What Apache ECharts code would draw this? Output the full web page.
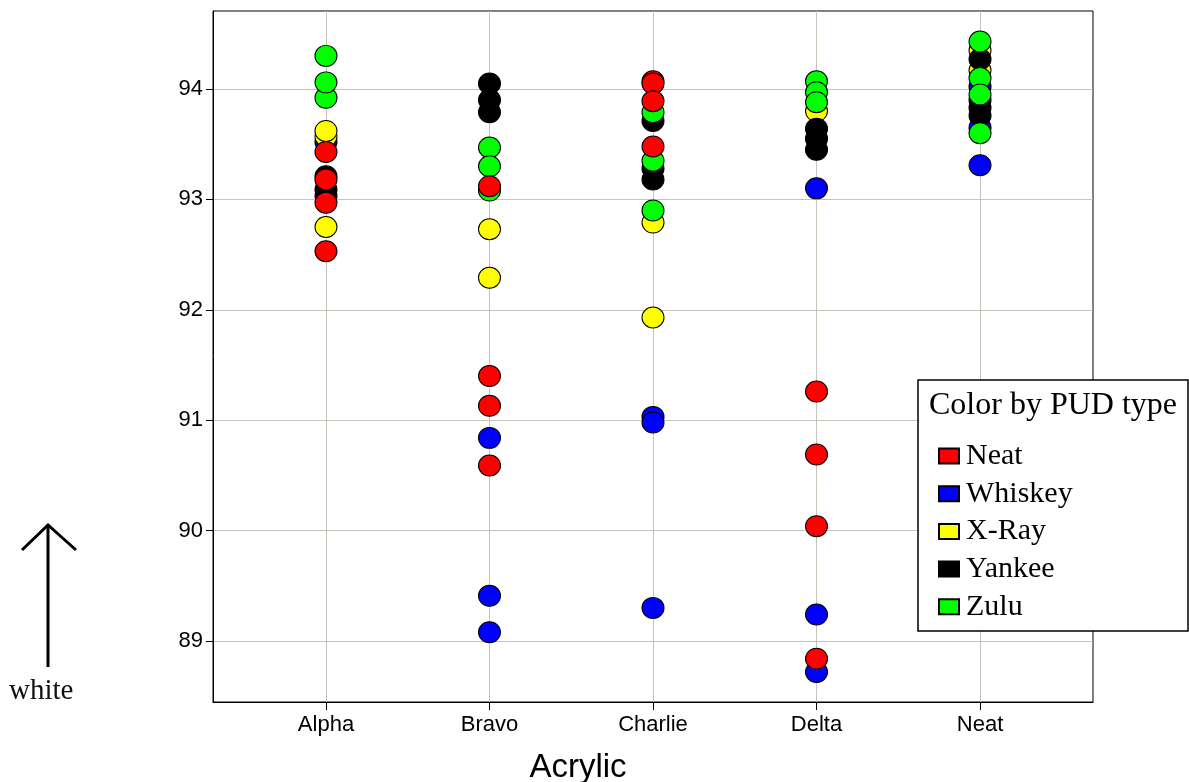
<!DOCTYPE html>
<html>
<head>
<meta charset="utf-8">
<title>Acrylic by PUD type</title>
<script src="https://cdn.jsdelivr.net/npm/echarts@6/dist/echarts.min.js"></script>
<style>
  html, body { margin: 0; padding: 0; background: #ffffff; }
  #chart { width: 1189px; height: 782px; }
</style>
</head>
<body>
<div id="chart"></div>
<script>
// Acrylic categories along the x axis
const categories = ['Alpha', 'Bravo', 'Charlie', 'Delta', 'Neat'];
const yTicks = [89, 90, 91, 92, 93, 94];

// Measured values, one list per acrylic category (Alpha, Bravo, Charlie, Delta, Neat)
const neatVals = [
  [92.53, 92.97, 93.18, 93.43],
  [93.12, 91.40, 91.13, 90.59],
  [94.07, 94.05, 93.89, 93.48],
  [91.26, 90.69, 90.04, 88.84],
  []
];
const whiskeyVals = [
  [93.52, 93.03],
  [90.84, 89.41, 89.08],
  [91.03, 90.98, 89.30],
  [93.10, 89.24, 88.72],
  [94.02, 93.90, 93.65, 93.31]
];
const xrayVals = [
  [92.75, 93.57, 93.62],
  [92.73, 92.29],
  [92.79, 91.93],
  [93.80],
  [94.35, 94.17]
];
const yankeeVals = [
  [93.09, 93.21],
  [94.05, 93.90, 93.79],
  [93.71, 93.28, 93.18],
  [93.64, 93.55, 93.45],
  [94.27, 93.83, 93.76]
];
const zuluVals = [
  [93.92, 94.06, 94.30],
  [93.47, 93.30, 93.08],
  [93.79, 93.35, 92.90],
  [94.07, 93.97, 93.88],
  [94.43, 94.10, 93.95, 93.60]
];

const pudTypes = ['Neat', 'Whiskey', 'X-Ray', 'Yankee', 'Zulu'];
const pudColors = {
  'Neat': '#ff0000',
  'Whiskey': '#0000ff',
  'X-Ray': '#ffff00',
  'Yankee': '#000000',
  'Zulu': '#00ff00'
};
const pudValues = {
  'Neat': neatVals,
  'Whiskey': whiskeyVals,
  'X-Ray': xrayVals,
  'Yankee': yankeeVals,
  'Zulu': zuluVals
};
// stacking order of the markers (last drawn on top)
const drawOrder = ['Whiskey', 'X-Ray', 'Yankee', 'Zulu', 'Neat'];

function toPoints(perCategory) {
  const pts = [];
  perCategory.forEach(function (vals, ci) {
    vals.forEach(function (v) { pts.push([ci, v]); });
  });
  return pts;
}

const gridColor = '#c6c3bb';
const sans = '"Liberation Sans", Arial, sans-serif';
const serif = '"Liberation Serif", "Times New Roman", serif';

const chart = echarts.init(document.getElementById('chart'), null, { renderer: 'canvas' });

chart.setOption({
  animation: false,
  backgroundColor: '#ffffff',
  grid: {
    left: 213, right: 96, top: 11, bottom: 80,
    show: true, borderColor: '#000000', borderWidth: 1, backgroundColor: 'transparent'
  },
  xAxis: {
    type: 'value',
    min: -0.691,
    max: 4.691,
    axisLine: { show: true, onZero: false, lineStyle: { color: '#000000', width: 1 } },
    axisTick: {
      show: true, length: 8, inside: false,
      customValues: [0, 1, 2, 3, 4],
      lineStyle: { color: '#000000', width: 1 }
    },
    axisLabel: {
      customValues: [0, 1, 2, 3, 4],
      margin: 12,
      fontFamily: sans, fontSize: 22, color: '#000000',
      formatter: function (v) { return categories[Math.round(v)]; }
    },
    splitLine: { show: true, lineStyle: { color: gridColor, width: 1 } }
  },
  yAxis: {
    type: 'value',
    min: 88.4475,
    max: 94.7065,
    axisLine: { show: true, onZero: false, lineStyle: { color: '#000000', width: 1 } },
    axisTick: {
      show: true, length: 7, inside: false,
      customValues: yTicks,
      lineStyle: { color: '#000000', width: 1 }
    },
    axisLabel: {
      customValues: yTicks,
      margin: 10,
      fontFamily: sans, fontSize: 22, color: '#000000'
    },
    splitLine: { show: true, lineStyle: { color: gridColor, width: 1 } }
  },
  legend: {
    data: pudTypes,
    orient: 'vertical',
    left: 933,
    top: 436,
    itemWidth: 20,
    itemHeight: 15,
    itemGap: 7.7,
    icon: 'rect',
    z: 20,
    selectedMode: false,
    textStyle: {
      fontFamily: serif, fontSize: 30, lineHeight: 30, color: '#000000',
      padding: [0, 0, 0, 2]
    }
  },
  graphic: [
    {
      type: 'rect', z: 10,
      shape: { x: 918, y: 380, width: 270, height: 251 },
      style: { fill: '#ffffff', stroke: '#000000', lineWidth: 1.5 }
    },
    {
      type: 'text', z: 21, left: 929, top: 390,
      style: { text: 'Color by PUD type', font: '32px ' + serif, fill: '#000000' }
    },
    {
      type: 'text', z: 10, x: 578, y: 768,
      style: {
        text: 'Acrylic', font: '33px ' + sans, fill: '#000000',
        align: 'center', verticalAlign: 'middle'
      }
    },
    {
      type: 'polyline', z: 10,
      shape: { points: [[22, 550], [48, 525], [76, 550]] },
      style: { stroke: '#000000', lineWidth: 3, fill: null }
    },
    {
      type: 'line', z: 10,
      shape: { x1: 48, y1: 525, x2: 48, y2: 667 },
      style: { stroke: '#000000', lineWidth: 3 }
    },
    {
      type: 'text', z: 10, left: 9, top: 677,
      style: { text: 'white', font: '29px ' + serif, fill: '#111111' }
    }
  ],
  series: drawOrder.map(function (name) {
    return {
      name: name,
      type: 'scatter',
      symbol: 'circle',
      symbolSize: [22, 21],
      itemStyle: {
        color: pudColors[name],
        borderColor: '#000000',
        borderWidth: 1,
        opacity: 1
      },
      emphasis: { disabled: true },
      data: toPoints(pudValues[name])
    };
  })
});
</script>
</body>
</html>
